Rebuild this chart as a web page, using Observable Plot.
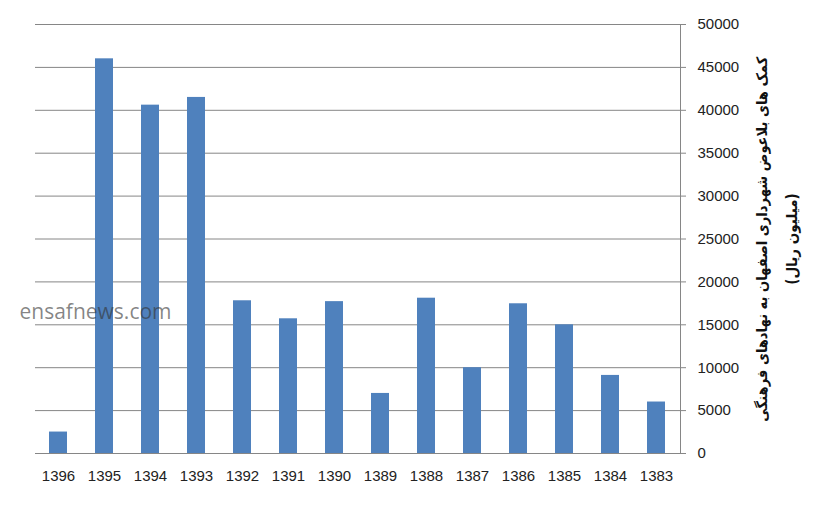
<!DOCTYPE html>
<html>
<head>
<meta charset="utf-8">
<script src="https://cdn.jsdelivr.net/npm/d3@7"></script>
<script src="https://cdn.jsdelivr.net/npm/@observablehq/plot@0.6"></script>
<style>
  html, body { margin: 0; padding: 0; background: #fff; }
  #chart { width: 828px; height: 511px; }
</style>
</head>
<body>
<div id="chart"></div>
<script>
const years = ["1396","1395","1394","1393","1392","1391","1390","1389","1388","1387","1386","1385","1384","1383"];
const values = [2500, 46000, 40600, 41500, 17800, 15700, 17700, 7000, 18100, 10000, 17450, 15000, 9100, 6000];
const yTicks = [0, 5000, 10000, 15000, 20000, 25000, 30000, 35000, 40000, 45000, 50000];
const titleLines = ["کمک های بلاعوض شهرداری اصفهان به نهادهای فرهنگی", "(میلیون ریال)"];
const watermark = "ensafnews.com";

const data = years.map((y, i) => ({year: y, value: values[i]}));

const titleFont = "DejaVu Sans Condensed, DejaVu Sans, sans-serif";

const chart = Plot.plot({
  width: 828,
  height: 511,
  marginLeft: 35,
  marginRight: 148,
  marginTop: 24,
  marginBottom: 58,
  style: {fontFamily: "Liberation Sans, Arial, sans-serif", fontSize: "15px", color: "#222", background: "#fff"},
  x: {domain: years, paddingInner: 0.6, paddingOuter: 0.3, label: null},
  y: {domain: [0, 50000], label: null},
  marks: [
    Plot.ruleY(yTicks, {stroke: "#868686", strokeWidth: 1, strokeOpacity: 1}),
    Plot.frame({anchor: "right", stroke: "#868686", strokeOpacity: 1}),
    Plot.barY(data, {x: "year", y: "value", fill: "#4F81BD"}),
    Plot.axisX({tickSize: 0, tickPadding: 17, fontSize: 15, fill: "#222"}),
    Plot.axisY({anchor: "right", ticks: yTicks, tickSize: 5, tickPadding: 12, stroke: "#868686", fill: "#222", fontSize: 15, tickFormat: d => String(d), label: null}),
    Plot.text([titleLines[0]], {frameAnchor: "right", dx: 82, rotate: -90, fontSize: 15, fontWeight: "bold", fill: "#111", fontFamily: titleFont, className: "ytitle"}),
    Plot.text([titleLines[1]], {frameAnchor: "right", dx: 112, rotate: -90, fontSize: 15, fontWeight: "bold", fill: "#111", fontFamily: titleFont, className: "ytitle"}),
    Plot.text([watermark], {frameAnchor: "top-left", dx: -16, dy: 280, textAnchor: "start", fontSize: 21, fill: "#333", fillOpacity: 0.6, fontFamily: "Open Sans, sans-serif"})
  ]
});
document.getElementById("chart").appendChild(chart);
// center the rotated RTL title lines along their own axis, fit line 1 to the reference length
d3.select(chart).selectAll(".ytitle text").each(function(_, i) {
  if (i === 0) {
    const w = this.getBBox().width;
    if (w > 365) this.style.fontSize = (15 * 365 / w).toFixed(2) + "px";
  }
  const b = this.getBBox();
  this.setAttribute("x", -(b.x + b.width / 2));
});
</script>
</body>
</html>
